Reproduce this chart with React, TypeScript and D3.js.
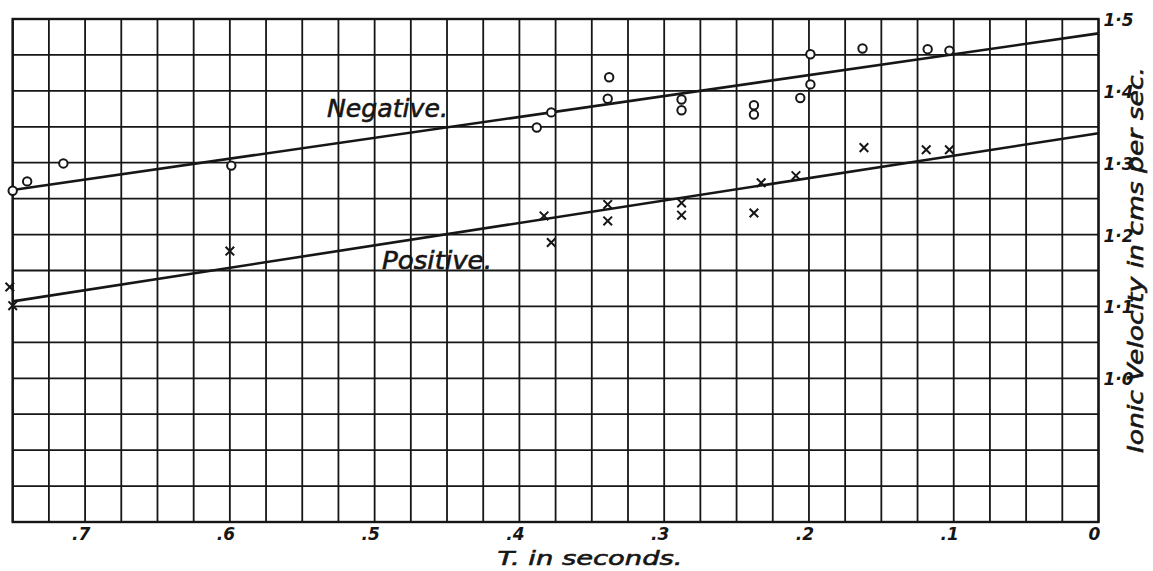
import React from "react";
import * as d3 from "d3";

// T (seconds) and ionic velocity (cms per sec)
const negativeT = [0.75, 0.74, 0.715, 0.599, 0.388, 0.378, 0.338, 0.339, 0.288, 0.288, 0.238, 0.238, 0.206, 0.199, 0.199, 0.163, 0.118, 0.103];
const negativeV = [1.261, 1.274, 1.299, 1.296, 1.349, 1.37, 1.419, 1.389, 1.388, 1.373, 1.38, 1.367, 1.39, 1.409, 1.451, 1.459, 1.458, 1.456];

const positiveT = [0.752, 0.75, 0.6, 0.383, 0.378, 0.339, 0.339, 0.233, 0.209, 0.162, 0.119, 0.103, 0.288, 0.288, 0.238];
const positiveV = [1.127, 1.101, 1.177, 1.226, 1.189, 1.242, 1.219, 1.272, 1.282, 1.321, 1.318, 1.318, 1.244, 1.227, 1.23];

// fitted straight lines, ends at T = .75 and T = 0
const negativeFit: [number, number][] = [[0.75, 1.262], [0, 1.48]];
const positiveFit: [number, number][] = [[0.75, 1.107], [0, 1.341]];

const xTicks = [0.7, 0.6, 0.5, 0.4, 0.3, 0.2, 0.1, 0];
const xTickLabels = [".7", ".6", ".5", ".4", ".3", ".2", ".1", "0"];
const yTicks = [1.5, 1.4, 1.3, 1.2, 1.1, 1.0];
const yTickLabels = ["1·5", "1·4", "1·3", "1·2", "1·1", "1·0"];

const W = 1153;
const H = 571;
const INK = "#161616";

export default function App() {
  const x = d3.scaleLinear().domain([0.75, 0]).range([12.7, 1098.5]);
  const y = d3.scaleLinear().domain([0.8, 1.5]).range([522, 19]);

  const xGrid = d3.range(0, 31).map((i) => i * 0.025);
  const yGrid = d3.range(0, 15).map((i) => 0.8 + i * 0.05);

  const line = d3
    .line<[number, number]>()
    .x((d) => x(d[0]))
    .y((d) => y(d[1]));

  const font = "'DejaVu Sans', Verdana, sans-serif";
  // printed lettering is a bit heavier than the plain oblique face
  const heavy = { stroke: INK, strokeWidth: 0.6 };

  return (
    <div style={{ position: "absolute", left: 0, top: 0 }}>
      <svg width={W} height={H} style={{ display: "block", background: "#fff" }}>
        {/* grid */}
        <g stroke={INK} strokeWidth={1.8}>
          {xGrid.map((v) => (
            <line key={"gx" + v} x1={x(v)} x2={x(v)} y1={y(1.5)} y2={y(0.8)} />
          ))}
          {yGrid.map((v) => (
            <line key={"gy" + v} x1={x(0.75)} x2={x(0)} y1={y(v)} y2={y(v)} />
          ))}
        </g>
        <rect
          x={x(0.75)}
          y={y(1.5)}
          width={x(0) - x(0.75)}
          height={y(0.8) - y(1.5)}
          fill="none"
          stroke={INK}
          strokeWidth={2.4}
        />

        {/* fitted lines */}
        <path d={line(negativeFit) || ""} fill="none" stroke={INK} strokeWidth={2.6} />
        <path d={line(positiveFit) || ""} fill="none" stroke={INK} strokeWidth={2.6} />

        {/* negative ions: circles */}
        {negativeT.map((t, i) => (
          <circle key={"n" + i} cx={x(t)} cy={y(negativeV[i])} r={4.2} fill="#fff" stroke={INK} strokeWidth={2} />
        ))}

        {/* positive ions: crosses */}
        {positiveT.map((t, i) => {
          const cx = x(t);
          const cy = y(positiveV[i]);
          const s = 4.3;
          return (
            <path
              key={"p" + i}
              d={`M${cx - s},${cy - s}L${cx + s},${cy + s}M${cx - s},${cy + s}L${cx + s},${cy - s}`}
              stroke={INK}
              strokeWidth={2}
              fill="none"
            />
          );
        })}

        {/* series labels */}
        <text x={327} y={117} fontFamily={font} fontStyle="italic" fontSize={25} textLength={121} lengthAdjust="spacingAndGlyphs" fill={INK} {...heavy}>
          Negative.
        </text>
        <text x={382} y={269} fontFamily={font} fontStyle="italic" fontSize={25} textLength={110} lengthAdjust="spacingAndGlyphs" fill={INK} {...heavy}>
          Positive.
        </text>

        {/* x tick labels */}
        {xTicks.map((v, i) => (
          <text
            key={"xt" + v}
            x={x(v) - 4}
            y={540}
            textAnchor="middle"
            fontFamily={font}
            fontStyle="italic"
            fontWeight="bold"
            fontSize={17}
            fill={INK}
          >
            {xTickLabels[i]}
          </text>
        ))}

        {/* y tick labels */}
        {yTicks.map((v, i) => (
          <text
            key={"yt" + v}
            x={x(0) + 5}
            y={y(v) + 7}
            fontFamily={font}
            fontStyle="italic"
            fontWeight="bold"
            fontSize={17}
            fill={INK}
          >
            {yTickLabels[i]}
          </text>
        ))}

        {/* axis titles */}
        <text x={590} y={565} textAnchor="middle" fontFamily={font} fontStyle="italic" fontSize={20} textLength={185} lengthAdjust="spacingAndGlyphs" fill={INK} {...heavy}>
          T. in seconds.
        </text>
        <text
          transform={`translate(1143,260) rotate(-90)`}
          textAnchor="middle"
          fontFamily={font}
          fontStyle="italic"
          fontSize={22}
          textLength={386}
          lengthAdjust="spacingAndGlyphs"
          fill={INK}
          {...heavy}
        >
          Ionic Velocity in cms per sec.
        </text>
      </svg>
    </div>
  );
}
